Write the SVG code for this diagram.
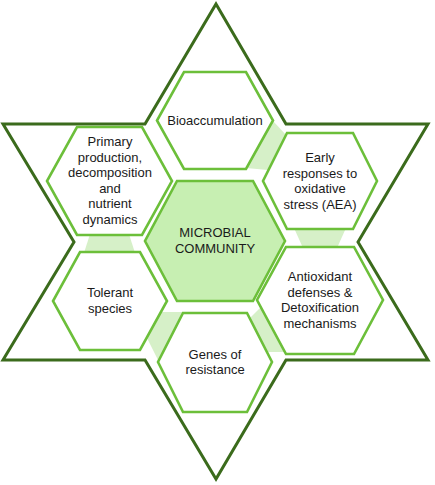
<svg xmlns="http://www.w3.org/2000/svg" width="435" height="485" viewBox="0 0 435 485">
<style>
.star{fill:#ffffff;stroke:#3b6b1c;stroke-width:3;stroke-linejoin:miter}
.hex{fill:#ffffff;stroke:#6cbf3a;stroke-width:2.6;stroke-linejoin:miter}
.core{fill:#c7efb2}
.link{fill:#d6f0c8;stroke:none}
text{font-family:"Liberation Sans",Arial,sans-serif;font-size:13px;fill:#1a1a1a;text-anchor:middle}
</style>
<rect width="435" height="485" fill="#ffffff"/>
<polygon class="star" points="216,4 286,124 428,124 358,242 428,360 286,360 216,479 145,360 3,360 74,242 3,124 145,124"/>
<g id="connectors">
<polygon class="link" points="273,121 287,136 268,170 246,168"/>
<polygon class="link" points="294,228 346,228 337,248 303,248"/>
<polygon class="link" points="262,306 284,352 268,352 250,318"/>
<polygon class="link" points="160,312 184,312 158,360 147,338"/>
<polygon class="link" points="90,234 129,234 135,253 84,253"/>
</g>
<g id="bioaccumulation">
<polygon class="hex" points="184,72 246,72 273,120.5 246,169 184,169 157,120.5"/>
<text x="215" y="125">Bioaccumulation</text>
</g>
<g id="primary">
<polygon class="hex" points="77,127 142,127 172,181 142,235 77,235 47,181"/>
<text x="110" y="146">Primary</text>
<text x="110" y="161.5">production,</text>
<text x="110" y="177">decomposition</text>
<text x="110" y="192.5">and</text>
<text x="110" y="208">nutrient</text>
<text x="110" y="223.5">dynamics</text>
</g>
<g id="early">
<polygon class="hex" points="287,133 353,133 377,181 353,229 287,229 263,181"/>
<text x="320" y="162">Early</text>
<text x="320" y="177.5">responses to</text>
<text x="320" y="193">oxidative</text>
<text x="320" y="208.5">stress (AEA)</text>
</g>
<g id="microbial">
<polygon class="hex core" points="177,181 253,181 285,241 253,301 177,301 145,241"/>
<text x="215" y="237">MICROBIAL</text>
<text x="215" y="252.5">COMMUNITY</text>
</g>
<g id="tolerant">
<polygon class="hex" points="80,252 140,252 167,301 140,350 80,350 53,301"/>
<text x="110" y="297">Tolerant</text>
<text x="110" y="312.5">species</text>
</g>
<g id="genes">
<polygon class="hex" points="183,313 247,313 272,362 247,412 183,412 158,362"/>
<text x="215" y="358.5">Genes of</text>
<text x="215" y="374">resistance</text>
</g>
<g id="antioxidant">
<polygon class="hex" points="286,247 354,247 383,300 354,354 286,354 257,300"/>
<text x="320" y="281">Antioxidant</text>
<text x="320" y="296.5">defenses &amp;</text>
<text x="320" y="312">Detoxification</text>
<text x="320" y="327.5">mechanisms</text>
</g>
</svg>
